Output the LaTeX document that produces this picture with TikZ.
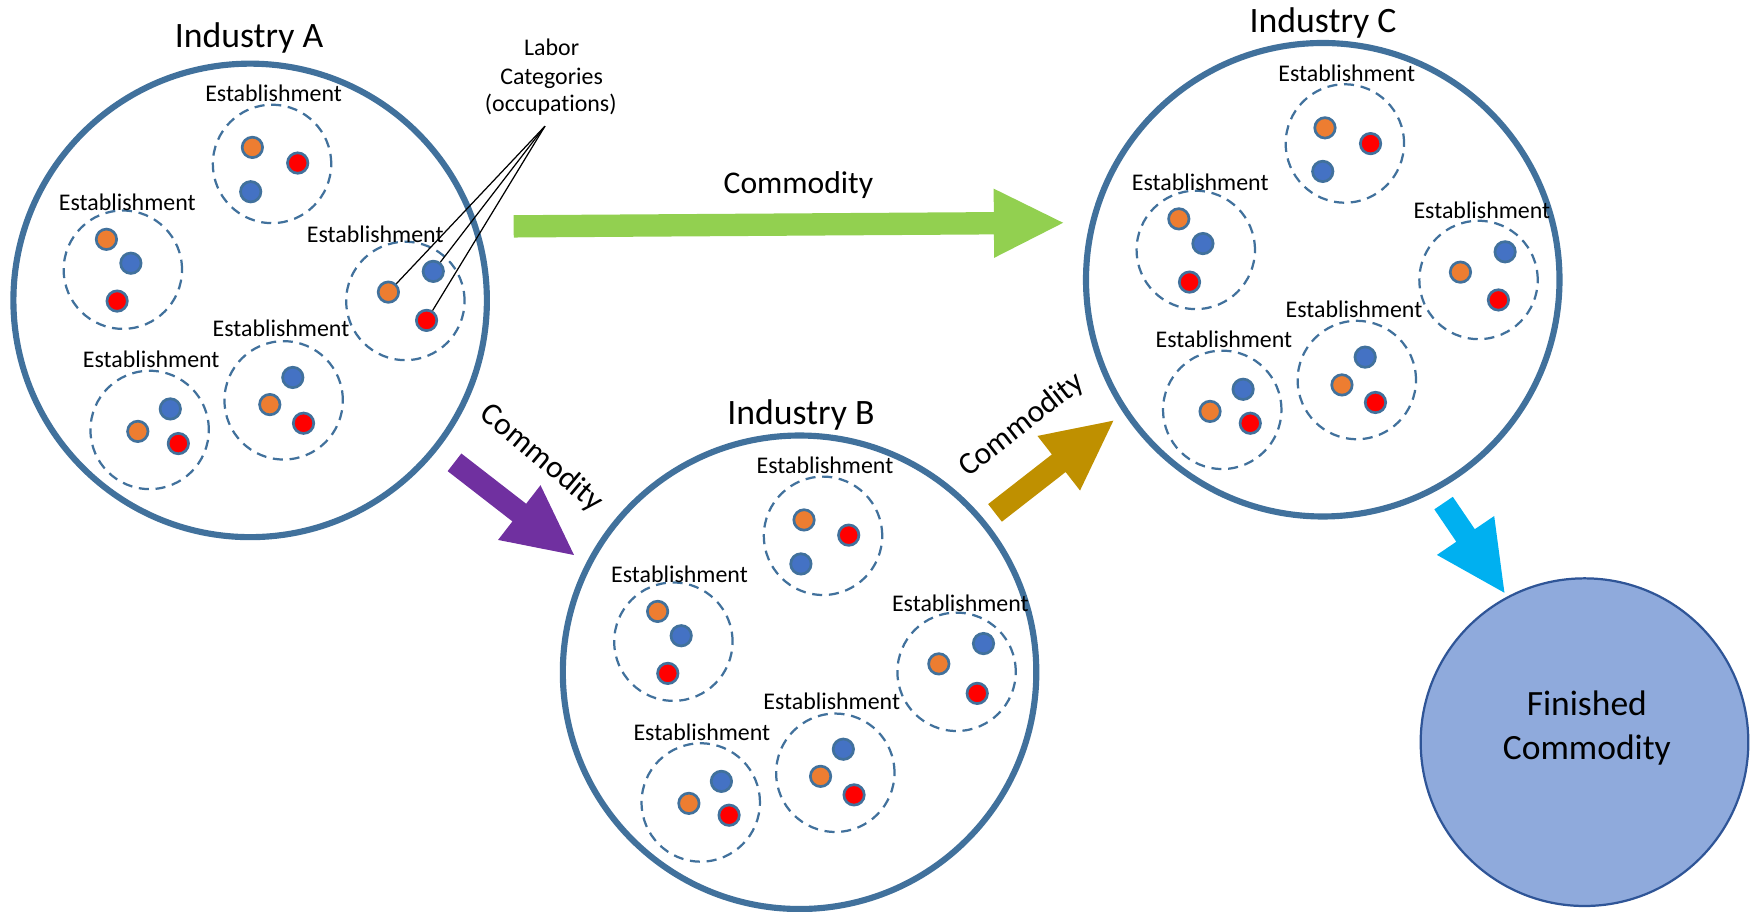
\documentclass[tikz,border=0pt]{standalone}
\usepackage{fontspec}
\setmainfont{Carlito}[Ligatures=NoCommon]
\usetikzlibrary{calc}
\definecolor{indblue}{HTML}{41719C}
\definecolor{dotorange}{HTML}{ED7D31}
\definecolor{dotblue}{HTML}{4472C4}
\definecolor{dotred}{HTML}{FF0000}
\definecolor{arrgreen}{HTML}{92D050}
\definecolor{arrpurple}{HTML}{7030A0}
\definecolor{arrgold}{HTML}{BF9000}
\definecolor{arrcyan}{HTML}{00B0F0}
\definecolor{finfill}{HTML}{8FAADC}
\definecolor{finborder}{HTML}{2F5597}
\newcommand\fatarrow[3]{%
  \coordinate (#1-hb) at ($(#2)!62pt!(#1)$);
  \fill[#3] ($(#1)!10pt!90:(#2)$) -- ($(#1-hb)!10pt!90:(#2)$) -- ($(#1-hb)!31pt!90:(#2)$) -- (#2)
     -- ($(#1-hb)!31pt!-90:(#2)$) -- ($(#1-hb)!10pt!-90:(#2)$) -- ($(#1)!10pt!-90:(#2)$) -- cycle;}
\begin{document}
\begin{tikzpicture}[x=1pt,y=-1pt,
  industry/.style={circle, draw=indblue, line width=5.5pt, fill=white, minimum size=424pt, inner sep=0pt},
  estab/.style={circle, draw=indblue, line width=2pt, dash pattern=on 9pt off 6pt, minimum size=106pt, inner sep=0pt},
  dot/.style={circle, draw=indblue, line width=2.4pt, minimum size=18.3pt, inner sep=0pt},
  odot/.style={dot, fill=dotorange},
  bdot/.style={dot, fill=dotblue},
  rdot/.style={dot, fill=dotred},
  lbl/.style={font=\fontsize{21.4}{25.5}\selectfont, anchor=base, inner sep=0pt},
  ttl/.style={font=\fontsize{32}{38}\selectfont, anchor=base, inner sep=0pt},
  comm/.style={font=\fontsize{28.3}{34}\selectfont, inner sep=0pt},
  leader/.style={draw=black, line width=1.1pt},
  finished/.style={circle, draw=finborder, line width=2pt, fill=finfill, minimum size=293.4pt, inner sep=0pt}
]
\useasboundingbox (0,0) rectangle (1568,816);

% ---------- Industry circles ----------
\node[industry] (indA) at (224,269) {};
\node[industry] (indB) at (716,602) {};
\node[industry] (indC) at (1184.5,250.5) {};
\node[ttl] (tA) at (223,42.5) {Industry A};
\node[ttl] (tB) at (717.2,379.7) {Industry B};
\node[ttl] (tC) at (1184.8,28.7) {Industry C};

% ---------- Industry A ----------
\node[estab] (a1) at (243.6,146.8) {};
\node[estab] (a2) at (110,241.5) {};
\node[estab] (a3) at (363,269.5) {};
\node[estab] (a4) at (254,358.5) {};
\node[estab] (a5) at (134,385) {};
\node[lbl] (a1l) at (245,90.5) {Establishment};
\node[lbl] (a2l) at (114,188.7) {Establishment};
\node[lbl] (a3l) at (336,216.8) {Establishment};
\node[lbl] (a4l) at (251.6,301.6) {Establishment};
\node[lbl] (a5l) at (135.4,329.4) {Establishment};
\node[odot] (a1o) at (226,132) {};
\node[rdot] (a1r) at (266.6,146) {};
\node[bdot] (a1b) at (224.5,171.7) {};
\node[odot] (a2o) at (95.3,214.3) {};
\node[bdot] (a2b) at (117.2,235.7) {};
\node[rdot] (a2r) at (104.9,269.6) {};
\node[odot] (a3o) at (347.8,261.6) {};
\node[bdot] (a3b) at (388,243) {};
\node[rdot] (a3r) at (382,286.9) {};
\node[bdot] (a4b) at (262.2,338) {};
\node[odot] (a4o) at (241.6,362.3) {};
\node[rdot] (a4r) at (271.8,379) {};
\node[bdot] (a5b) at (152.5,366.2) {};
\node[odot] (a5o) at (123.4,386.3) {};
\node[rdot] (a5r) at (159.7,397.2) {};

% ---------- Industry B ----------
\node[estab] (b1) at (737,479.8) {};
\node[estab] (b2) at (603,574.6) {};
\node[estab] (b3) at (856.6,601.6) {};
\node[estab] (b4) at (748,692) {};
\node[estab] (b5) at (627.5,718.6) {};
\node[lbl] (b1l) at (738.8,423.7) {Establishment};
\node[lbl] (b2l) at (608.5,521.7) {Establishment};
\node[lbl] (b3l) at (860,547.5) {Establishment};
\node[lbl] (b4l) at (744.8,635.4) {Establishment};
\node[lbl] (b5l) at (628.5,663.3) {Establishment};
\node[odot] (b1o) at (720,465.6) {};
\node[rdot] (b1r) at (760,479.2) {};
\node[bdot] (b1b) at (717.2,505) {};
\node[odot] (b2o) at (588.9,547.5) {};
\node[bdot] (b2b) at (610,569.3) {};
\node[rdot] (b2r) at (598,603) {};
\node[odot] (b3o) at (840.7,594.5) {};
\node[bdot] (b3b) at (880.7,576.3) {};
\node[rdot] (b3r) at (875.1,620.9) {};
\node[bdot] (b4b) at (755.2,670.9) {};
\node[odot] (b4o) at (734.8,695.2) {};
\node[rdot] (b4r) at (764.8,711.8) {};
\node[bdot] (b5b) at (646,699.7) {};
\node[odot] (b5o) at (616.9,719.4) {};
\node[rdot] (b5r) at (652.9,730) {};

% ---------- Industry C ----------
\node[estab] (c1) at (1204.3,128.5) {};
\node[estab] (c2) at (1070.8,223.8) {};
\node[estab] (c3) at (1324,250.7) {};
\node[estab] (c4) at (1215,340.3) {};
\node[estab] (c5) at (1094.5,367) {};
\node[lbl] (c1l) at (1206,72.9) {Establishment};
\node[lbl] (c2l) at (1074.8,171) {Establishment};
\node[lbl] (c3l) at (1327,195.7) {Establishment};
\node[lbl] (c4l) at (1212.5,284) {Establishment};
\node[lbl] (c5l) at (1096,310.8) {Establishment};
\node[odot] (c1o) at (1186.5,114.5) {};
\node[rdot] (c1r) at (1227.3,128.6) {};
\node[bdot] (c1b) at (1184.5,153.5) {};
\node[odot] (c2o) at (1055.6,196) {};
\node[bdot] (c2b) at (1077.2,218.1) {};
\node[rdot] (c2r) at (1065.2,252.6) {};
\node[odot] (c3o) at (1307.8,243.7) {};
\node[bdot] (c3b) at (1347.8,225.5) {};
\node[rdot] (c3r) at (1341.8,268.6) {};
\node[bdot] (c4b) at (1222.5,319.8) {};
\node[odot] (c4o) at (1201.7,344.7) {};
\node[rdot] (c4r) at (1231.7,360.4) {};
\node[bdot] (c5b) at (1113.2,348.6) {};
\node[odot] (c5o) at (1083.6,368.4) {};
\node[rdot] (c5r) at (1119.6,379) {};

% ---------- Labor categories callout ----------
\node[lbl] (lab1) at (494,49.3) {Labor};
\node[lbl] (lab2) at (494,75.3) {Categories};
\node[lbl] (lab3) at (493.2,100) {(occupations)};
\coordinate (apex) at (488,113);
\draw[leader] (apex) -- (a3o);
\draw[leader] (apex) -- (a3b);
\draw[leader] (apex) -- (a3r);

% ---------- Commodity arrows ----------
\coordinate (gT) at (460,202.7);
\coordinate (gP) at (952,199.5);
\fatarrow{gT}{gP}{arrgreen}
\node[comm, anchor=base] (gl) at (715,173) {Commodity};

\coordinate (pT) at (407,414);
\coordinate (pP) at (514,497);
\fatarrow{pT}{pP}{arrpurple}
\node[comm, rotate=-40] (pl) at (485,410.4) {Commodity};

\coordinate (yT) at (891,459.3);
\coordinate (yP) at (997,376.7);
\fatarrow{yT}{yP}{arrgold}
\node[comm, rotate=38] (yl) at (915,380.6) {Commodity};

\coordinate (cT) at (1292.7,450.5);
\coordinate (cP) at (1347.2,530.8);
\fatarrow{cT}{cP}{arrcyan}

% ---------- Finished commodity ----------
\node[finished] (fin) at (1418.9,664.6) {};
\node[font=\fontsize{31.8}{39.7}\selectfont, anchor=base, inner sep=0pt] (fin1) at (1421,640.3) {Finished};
\node[font=\fontsize{31.8}{39.7}\selectfont, anchor=base, inner sep=0pt] (fin2) at (1421,680) {Commodity};
\end{tikzpicture}
\end{document}
